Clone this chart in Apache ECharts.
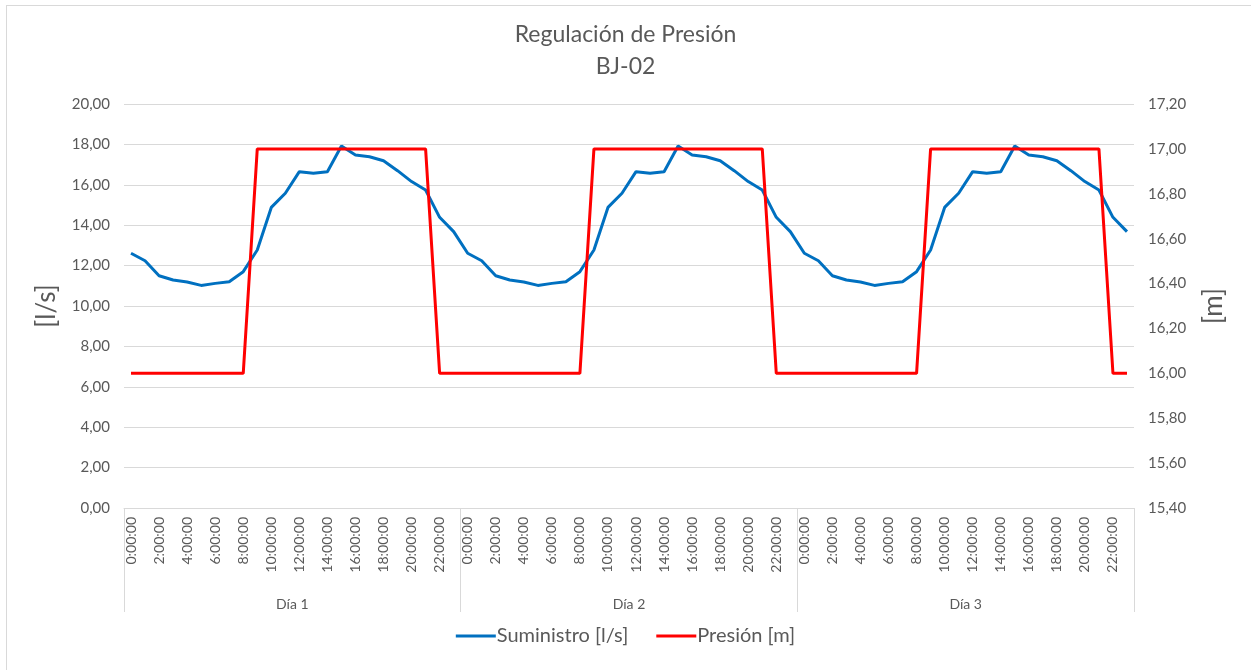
<!DOCTYPE html>
<html>
<head>
<meta charset="utf-8">
<script src="https://cdn.jsdelivr.net/npm/echarts@6/dist/echarts.min.js"></script>
<style>
  html, body { margin: 0; padding: 0; background: #fff; }
  #frame { position: absolute; left: 6px; top: 5px; width: 1260px; height: 680px; border: 1px solid #d9d9d9; box-sizing: border-box; }
  #chart { position: absolute; left: 0; top: 0; width: 1251px; height: 670px; }
</style>
</head>
<body>
<div id="frame"></div>
<div id="chart"></div>
<script>
// categorías
const horas = ['0:00:00','1:00:00','2:00:00','3:00:00','4:00:00','5:00:00','6:00:00','7:00:00',
  '8:00:00','9:00:00','10:00:00','11:00:00','12:00:00','13:00:00','14:00:00','15:00:00',
  '16:00:00','17:00:00','18:00:00','19:00:00','20:00:00','21:00:00','22:00:00','23:00:00']
const dias = ['Día 1', 'Día 2', 'Día 3']

// Suministro [l/s], uno por día
const suministroDia1 = [12.61, 12.24, 11.50, 11.29, 11.19, 11.02, 11.12, 11.20, 11.70, 12.77, 14.88, 15.58,
  16.65, 16.57, 16.65, 17.92, 17.48, 17.39, 17.19, 16.70, 16.16, 15.74, 14.39, 13.68]
const suministroDia2 = [12.61, 12.24, 11.50, 11.29, 11.19, 11.02, 11.12, 11.20, 11.70, 12.77, 14.88, 15.58,
  16.65, 16.57, 16.65, 17.92, 17.48, 17.39, 17.19, 16.70, 16.16, 15.74, 14.39, 13.68]
const suministroDia3 = [12.61, 12.24, 11.50, 11.29, 11.19, 11.02, 11.12, 11.20, 11.70, 12.77, 14.88, 15.58,
  16.65, 16.57, 16.65, 17.92, 17.48, 17.39, 17.19, 16.70, 16.16, 15.74, 14.39, 13.68]

// Presión [m]
const presionDia1 = [16, 16, 16, 16, 16, 16, 16, 16, 16, 17, 17, 17, 17, 17, 17, 17, 17, 17, 17, 17, 17, 17, 16, 16]
const presionDia2 = [16, 16, 16, 16, 16, 16, 16, 16, 16, 17, 17, 17, 17, 17, 17, 17, 17, 17, 17, 17, 17, 17, 16, 16]
const presionDia3 = [16, 16, 16, 16, 16, 16, 16, 16, 16, 17, 17, 17, 17, 17, 17, 17, 17, 17, 17, 17, 17, 17, 16, 16]

const categorias = [...horas, ...horas, ...horas]
const suministro = [...suministroDia1, ...suministroDia2, ...suministroDia3]
const presion = [...presionDia1, ...presionDia2, ...presionDia3]

const FONT = 'Lato, "Open Sans", sans-serif'
const TXT = '#595959'
const coma = (v) => v.toFixed(2).replace('.', ',')

const chart = echarts.init(document.getElementById('chart'))
chart.setOption({
  animation: false,
  textStyle: { fontFamily: FONT },
  title: {
    text: 'Regulación de Presión\nBJ-02',
    left: 'center',
    top: 14,
    textStyle: { fontSize: 23, fontWeight: 'normal', color: TXT, lineHeight: 32, fontFamily: FONT }
  },
  legend: {
    bottom: 19,
    left: 'center',
    itemWidth: 40,
    itemHeight: 3,
    itemGap: 28,
    icon: 'rect',
    textStyle: { fontSize: 20, color: TXT, padding: [0, 0, 0, -4] },
    data: ['Suministro [l/s]', 'Presión [m]']
  },
  grid: { left: 124, right: 117, top: 104, bottom: 162 },
  xAxis: [
    {
      type: 'category',
      data: categorias,
      boundaryGap: true,
      axisLine: { lineStyle: { color: '#d9d9d9' } },
      axisTick: { show: false },
      axisLabel: { rotate: 90, interval: 1, fontSize: 14, color: TXT, margin: 9 }
    },
    {
      type: 'category',
      data: dias,
      position: 'bottom',
      boundaryGap: true,
      axisLine: { show: false },
      axisTick: { show: true, length: 104, lineStyle: { color: '#d9d9d9' } },
      axisLabel: { fontSize: 14, color: TXT, margin: 89 }
    }
  ],
  yAxis: [
    {
      type: 'value',
      min: 0, max: 20, interval: 2,
      name: '[l/s]',
      nameLocation: 'middle',
      nameGap: 64,
      nameTextStyle: { fontSize: 26, color: TXT },
      axisLine: { show: false },
      axisTick: { show: false },
      axisLabel: { formatter: coma, fontSize: 15, color: TXT, margin: 14 },
      splitLine: { lineStyle: { color: '#d9d9d9', width: 1 } }
    },
    {
      type: 'value',
      min: 15.4, max: 17.2, interval: 0.2,
      name: '[m]',
      nameLocation: 'middle',
      nameGap: 67,
      nameRotate: 90,
      nameTextStyle: { fontSize: 26, color: TXT },
      axisLine: { show: false },
      axisTick: { show: false },
      axisLabel: { formatter: coma, fontSize: 15, color: TXT, margin: 14 },
      splitLine: { show: false }
    }
  ],
  series: [
    {
      name: 'Suministro [l/s]',
      type: 'line',
      yAxisIndex: 0,
      data: suministro,
      showSymbol: false,
      lineStyle: { color: '#0070C0', width: 3 },
      itemStyle: { color: '#0070C0' }
    },
    {
      name: 'Presión [m]',
      type: 'line',
      yAxisIndex: 1,
      data: presion,
      showSymbol: false,
      lineStyle: { color: '#FF0000', width: 3 },
      itemStyle: { color: '#FF0000' }
    }
  ]
})
</script>
</body>
</html>
